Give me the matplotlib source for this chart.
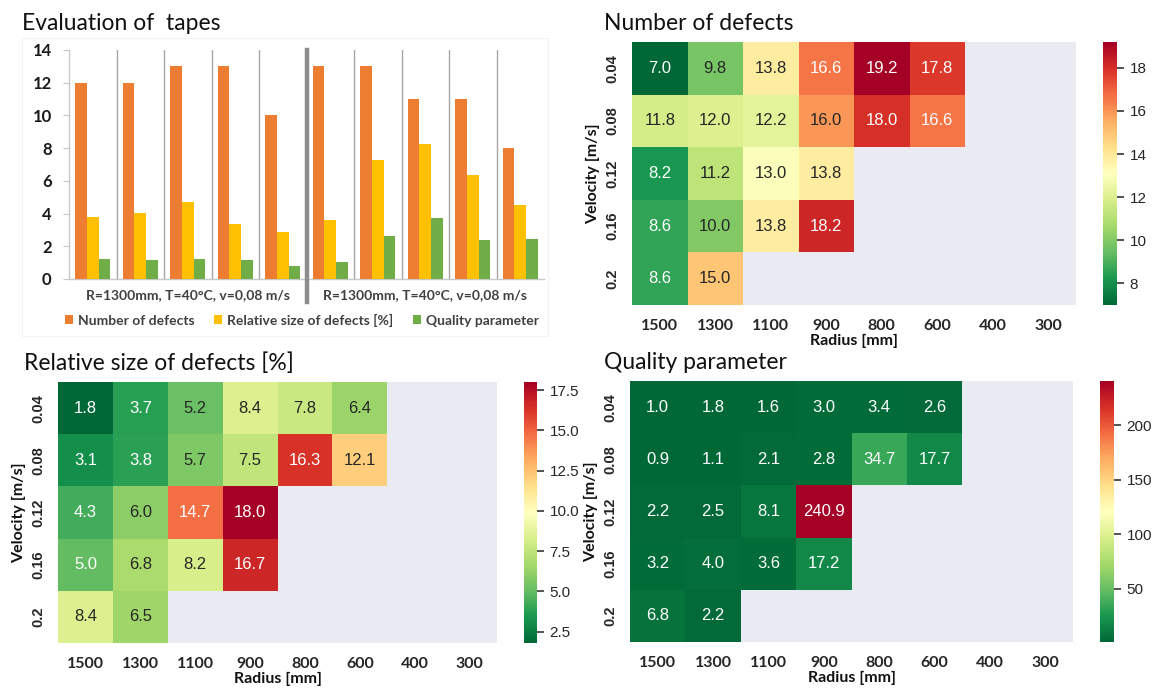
import numpy as np
import matplotlib
matplotlib.use('Agg')
import matplotlib.pyplot as plt
import seaborn as sns
from matplotlib.patches import Rectangle

# %%
# данные столбчатой диаграммы (10 лент)
n_defects = [12, 12, 13, 13, 10, 13, 13, 11, 11, 8]
rel_size = [3.8, 4.05, 4.7, 3.35, 2.9, 3.6, 7.25, 8.25, 6.35, 4.55]
quality = [1.2, 1.15, 1.25, 1.15, 0.8, 1.02, 2.65, 3.75, 2.4, 2.45]
group_labels = ['R=1300mm, T=40°C, v=0,08 m/s', 'R=1300mm, T=40°C, v=0,08 m/s']
series_names = ['Number of defects', 'Relative size of defects [%]', 'Quality parameter']
bar_colors = ['#ED7D31', '#FFC000', '#70AD47']

# данные тепловых карт
radius = ['1500', '1300', '1100', '900', '800', '600', '400', '300']
velocity = ['0.04', '0.08', '0.12', '0.16', '0.2']
nan = np.nan
num_def = np.array([
    [7.0, 9.8, 13.8, 16.6, 19.2, 17.8, nan, nan],
    [11.8, 12.0, 12.2, 16.0, 18.0, 16.6, nan, nan],
    [8.2, 11.2, 13.0, 13.8, nan, nan, nan, nan],
    [8.6, 10.0, 13.8, 18.2, nan, nan, nan, nan],
    [8.6, 15.0, nan, nan, nan, nan, nan, nan],
])
rel_def = np.array([
    [1.8, 3.7, 5.2, 8.4, 7.8, 6.4, nan, nan],
    [3.1, 3.8, 5.7, 7.5, 16.3, 12.1, nan, nan],
    [4.3, 6.0, 14.7, 18.0, nan, nan, nan, nan],
    [5.0, 6.8, 8.2, 16.7, nan, nan, nan, nan],
    [8.4, 6.5, nan, nan, nan, nan, nan, nan],
])
qual = np.array([
    [1.0, 1.8, 1.6, 3.0, 3.4, 2.6, nan, nan],
    [0.9, 1.1, 2.1, 2.8, 34.7, 17.7, nan, nan],
    [2.2, 2.5, 8.1, 240.9, nan, nan, nan, nan],
    [3.2, 4.0, 3.6, 17.2, nan, nan, nan, nan],
    [6.8, 2.2, nan, nan, nan, nan, nan, nan],
])

# %%
W, H = 1157, 689
fig = plt.figure(figsize=(W / 100, H / 100), dpi=100, facecolor='white')


def px_axes(x0, y0, x1, y1):
    return fig.add_axes([x0 / W, 1 - y1 / H, (x1 - x0) / W, (y1 - y0) / H])


title_font = dict(family=['Lato', 'DejaVu Sans'], fontsize=16.5, color='#111111')
fig.text(22 / W, 1 - 30 / H, 'Evaluation of  tapes', va='baseline', **title_font)
fig.text(604 / W, 1 - 30 / H, 'Number of defects', va='baseline', **title_font)
fig.text(24 / W, 1 - 370 / H, 'Relative size of defects [%]', va='baseline', **title_font)
fig.text(604 / W, 1 - 369 / H, 'Quality parameter', va='baseline', **title_font)

# =========================
# 1 Bar chart
# =========================
fig.patches.append(Rectangle((22 / W, 1 - 336 / H), 526 / W, 298 / H,
                             transform=fig.transFigure, fill=False,
                             edgecolor='#F3F3F3', linewidth=0.8))

ax0 = px_axes(69, 50, 544, 279)
x = np.arange(len(n_defects)) + 0.5
bw = 0.245
for k, vals in enumerate([n_defects, rel_size, quality]):
    ax0.bar(x + (k - 1) * bw, vals, width=bw, color=bar_colors[k],
            label=series_names[k], zorder=3)

for b in range(1, 10):
    if b == 5:
        ax0.plot([b, b], [-1.4, 14], color='#8C8C8C', linewidth=3.2,
                 clip_on=False, zorder=4)
    else:
        ax0.plot([b, b], [0, 14], color='#A6A6A6', linewidth=1.0, zorder=2)

ax0.set_xlim(0, 10)
ax0.set_ylim(0, 14)
ax0.set_yticks(range(0, 15, 2))
ax0.set_xticks([])
for s in ['top', 'right']:
    ax0.spines[s].set_visible(False)
for s in ['left', 'bottom']:
    ax0.spines[s].set_color('#C8C8C8')
    ax0.spines[s].set_linewidth(1.0)
ax0.tick_params(axis='y', length=4, color='#C8C8C8', pad=8.5)
for t in ax0.get_yticklabels():
    t.set_fontfamily(['Lato', 'DejaVu Sans'])
    t.set_fontweight('bold')
    t.set_fontsize(12)
    t.set_color('#1a1a1a')

for i, lab in enumerate(group_labels):
    ax0.text(2.5 + 5 * i, -1.0, lab, ha='center', va='center',
             fontsize=10, fontweight='bold', color='#404040',
             family=['Lato', 'DejaVu Sans'], clip_on=False)

leg = ax0.legend(loc='center', bbox_to_anchor=(0.49, -0.179), ncol=3,
                 frameon=False, handlelength=0.6, handleheight=0.6,
                 handletextpad=0.35, columnspacing=1.4, borderaxespad=0,
                 prop={'family': ['Lato', 'DejaVu Sans'], 'size': 10,
                       'weight': 'bold'})
for t in leg.get_texts():
    t.set_color('#404040')

# =========================
# 2 Heatmaps
# =========================
def draw_heatmap(data, box, cbox, ticks):
    ax = px_axes(*box)
    cax = px_axes(*cbox)
    sns.heatmap(data, ax=ax, cbar_ax=cax, cmap='RdYlGn_r', annot=True,
                fmt='.1f', xticklabels=radius, yticklabels=velocity,
                annot_kws={'fontsize': 12, 'family': 'Liberation Sans'})
    ax.set_facecolor('#EAEAF2')
    ax.tick_params(length=0)
    ax.tick_params(axis='x', pad=10)
    ax.tick_params(axis='y', pad=9)
    for t in ax.get_xticklabels():
        t.set_fontfamily(['Lato', 'DejaVu Sans'])
        t.set_fontweight('bold')
        t.set_fontsize(11.5)
        t.set_color('#262626')
        t.set_rotation(0)
    for t in ax.get_yticklabels():
        t.set_fontfamily('Liberation Sans')
        t.set_fontweight('bold')
        t.set_fontsize(10.5)
        t.set_color('#262626')
        t.set_rotation(90)
        t.set_va('center')
    ax.set_xlabel('Radius [mm]', fontsize=11.5, fontweight='bold',
                  family=['Lato', 'DejaVu Sans'], labelpad=1, color='#111111')
    ax.set_ylabel('Velocity [m/s]', fontsize=11.5, fontweight='bold',
                  family=['Lato', 'DejaVu Sans'], labelpad=4, color='#111111')
    cax.set_yticks(ticks)
    cax.tick_params(length=5, width=1.3, color='#444444', pad=4,
                    labelsize=11, labelcolor='#262626')
    for t in cax.get_yticklabels():
        t.set_fontfamily('Liberation Sans')
    return ax


draw_heatmap(num_def, (632, 42, 1076, 305), (1103, 42, 1117, 305),
             [8, 10, 12, 14, 16, 18])
draw_heatmap(rel_def, (58, 382, 497, 643), (524, 382, 537, 643),
             [2.5, 5.0, 7.5, 10.0, 12.5, 15.0, 17.5])
draw_heatmap(qual, (630, 381, 1073, 642), (1100, 381, 1114, 642),
             [50, 100, 150, 200])

fig.savefig('out.png', dpi=100, facecolor='white')
